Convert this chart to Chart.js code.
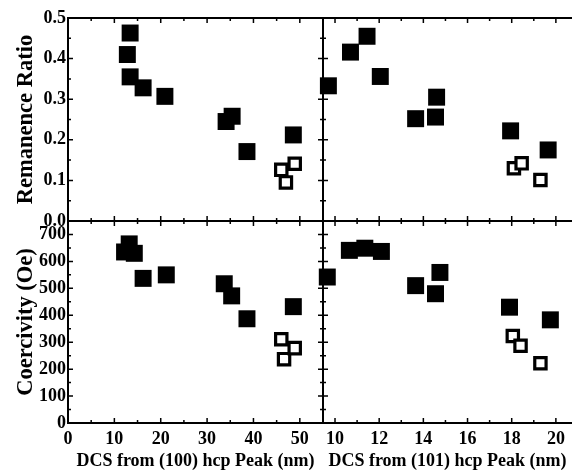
<!DOCTYPE html>
<html>
<head>
<meta charset="utf-8">
<script src="https://cdn.jsdelivr.net/npm/chart.js@4.4.1/dist/chart.umd.min.js"></script>
<style>
  html, body { margin: 0; padding: 0; background: #fff; }
  #dcs { display: block; }
</style>
</head>
<body>
<canvas id="dcs" width="572" height="472"></canvas>
<script>
// tick labels
const ticks100 = [0, 10, 20, 30, 40, 50];
const ticks101 = [10, 12, 14, 16, 18, 20];
const ticksRem = [0, 0.1, 0.2, 0.3, 0.4, 0.5];
const ticksHc = [0, 100, 200, 300, 400, 500, 600, 700];

// remanence ratio vs DCS from (100)
const rem100X = [13.4, 12.8, 13.4, 16.2, 20.9, 34.1, 35.4, 38.6, 48.6];
const rem100Y = [0.463, 0.41, 0.355, 0.328, 0.307, 0.245, 0.258, 0.171, 0.212];
const rem100OpenX = [46.0, 47.0, 48.9];
const rem100OpenY = [0.126, 0.095, 0.141];

// remanence ratio vs DCS from (101)
const rem101X = [9.7, 10.7, 11.45, 12.05, 14.6, 13.65, 14.55, 17.95, 19.65];
const rem101Y = [0.333, 0.416, 0.455, 0.356, 0.305, 0.252, 0.256, 0.222, 0.175];
const rem101OpenX = [18.1, 18.45, 19.3];
const rem101OpenY = [0.130, 0.142, 0.101];

// coercivity vs DCS from (100)
const hc100X = [13.2, 12.2, 14.3, 16.2, 21.2, 33.7, 35.3, 38.6, 48.6];
const hc100Y = [665, 635, 630, 537, 550, 517, 472, 387, 432];
const hc100OpenX = [46.0, 46.6, 48.9];
const hc100OpenY = [311, 237, 278];

// coercivity vs DCS from (101)
const hc101X = [9.65, 10.65, 11.35, 12.1, 13.65, 14.55, 14.75, 17.9, 19.75];
const hc101Y = [542, 641, 649, 637, 510, 480, 559, 430, 383];
const hc101OpenX = [18.05, 18.4, 19.3];
const hc101OpenY = [323, 287, 222];

const pts = (xs, ys) => xs.map((x, i) => ({ x, y: ys[i] }));

const FONT = 'Liberation Serif';
const tickFont = { family: FONT, size: 18, weight: 'bold' };

function solid(xs, ys, xId, yId) {
  return {
    data: pts(xs, ys), xAxisID: xId, yAxisID: yId,
    pointStyle: 'rect', pointRadius: 12, pointHoverRadius: 12,
    backgroundColor: '#000', borderWidth: 0, clip: false
  };
}
function hollow(xs, ys, xId, yId) {
  return {
    data: pts(xs, ys), xAxisID: xId, yAxisID: yId,
    pointStyle: 'rect', pointRadius: 8, pointHoverRadius: 8,
    backgroundColor: '#fff', borderColor: '#000', borderWidth: 3.2, clip: false
  };
}

// minor ticks halfway between labelled ones
const halves = t => t.slice(1).map((v, i) => (v + t[i]) / 2);
const tickSets = {
  x100: [ticks100, halves(ticks100)],
  x101: [ticks101, halves(ticks101)],
  yRem: [ticksRem, halves(ticksRem)],
  yHc: [ticksHc, halves(ticksHc)]
};

// box, panel dividers and tick marks
const frame = {
  id: 'frame',
  beforeDatasetsDraw(chart) {
    const { ctx, chartArea: a, scales: s } = chart;
    const mid = s.yRem.bottom;
    const div = s.x100.right;
    ctx.save();
    ctx.strokeStyle = '#000';
    ctx.lineWidth = 2;
    ctx.beginPath();
    ctx.moveTo(a.right, a.top);
    ctx.lineTo(a.left, a.top);
    ctx.lineTo(a.left, a.bottom);
    ctx.lineTo(a.right, a.bottom);
    ctx.moveTo(a.left, mid);
    ctx.lineTo(a.right, mid);
    ctx.moveTo(div, a.top);
    ctx.lineTo(div, a.bottom);
    ctx.stroke();

    ctx.lineWidth = 1.5;
    ctx.beginPath();
    const seg = (x0, y0, x1, y1) => { ctx.moveTo(x0, y0); ctx.lineTo(x1, y1); };
    for (const id of ['x100', 'x101']) {
      const sc = s[id];
      tickSets[id].forEach((vals, k) => {
        const len = k ? 3 : 5;
        for (const v of vals) {
          const px = sc.getPixelForValue(v);
          seg(px, a.top, px, a.top + len);
          seg(px, mid - len, px, mid + len);
          seg(px, a.bottom - len, px, a.bottom);
        }
      });
    }
    for (const id of ['yRem', 'yHc']) {
      const sc = s[id];
      tickSets[id].forEach((vals, k) => {
        const len = k ? 3 : 5;
        for (const v of vals) {
          const py = sc.getPixelForValue(v);
          seg(a.left, py, a.left + len, py);
          seg(div - len, py, div + len, py);
        }
      });
    }
    ctx.stroke();
    ctx.restore();
  }
};

function xScale(min, max, weight, ticks, title) {
  return {
    type: 'linear', position: 'bottom', stack: 'x', stackWeight: weight,
    min, max,
    afterBuildTicks: sc => { sc.ticks = ticks.map(value => ({ value })); },
    afterFit: sc => { sc.height = 49; sc.paddingLeft = 0; sc.paddingRight = 0; },
    grid: { display: false, drawTicks: false },
    border: { display: false },
    ticks: { font: tickFont, color: '#000', padding: 6, autoSkip: false, maxRotation: 0 },
    title: {
      display: true, text: title, color: '#000',
      font: { family: FONT, size: 18, weight: 'bold', lineHeight: 1 },
      padding: { top: 0, bottom: 2 }
    }
  };
}
function yScale(min, max, weight, order, ticks, digits, title) {
  return {
    type: 'linear', position: 'left', stack: 'y', stackWeight: weight, weight: order,
    min, max,
    afterBuildTicks: sc => { sc.ticks = ticks.map(value => ({ value })); },
    afterFit: sc => { sc.width = 68; sc.paddingTop = 0; sc.paddingBottom = 0; },
    grid: { display: false, drawTicks: false },
    border: { display: false },
    ticks: {
      font: tickFont, color: '#000', padding: 2, autoSkip: false,
      callback: v => v.toFixed(digits)
    },
    title: {
      display: true, text: title, color: '#000',
      font: { family: FONT, size: 22.5, weight: 'bold', lineHeight: 1 },
      padding: { top: 15, bottom: 0 }
    }
  };
}

new Chart(document.getElementById('dcs'), {
  type: 'scatter',
  data: {
    datasets: [
      solid(rem100X, rem100Y, 'x100', 'yRem'),
      hollow(rem100OpenX, rem100OpenY, 'x100', 'yRem'),
      solid(rem101X, rem101Y, 'x101', 'yRem'),
      hollow(rem101OpenX, rem101OpenY, 'x101', 'yRem'),
      solid(hc100X, hc100Y, 'x100', 'yHc'),
      hollow(hc100OpenX, hc100OpenY, 'x100', 'yHc'),
      solid(hc101X, hc101Y, 'x101', 'yHc'),
      hollow(hc101OpenX, hc101OpenY, 'x101', 'yHc')
    ]
  },
  options: {
    responsive: false,
    animation: false,
    devicePixelRatio: 1,
    layout: { autoPadding: false, padding: { top: 18, right: 0, bottom: 0, left: 0 } },
    plugins: { legend: { display: false }, tooltip: { enabled: false } },
    scales: {
      x100: xScale(0, 55, 255, ticks100, 'DCS from (100) hcp Peak (nm)'),
      x101: xScale(9.456, 20.73, 249, ticks101, 'DCS from (101) hcp Peak (nm)'),
      yRem: yScale(0, 0.5, 203, 2, ticksRem, 1, 'Remanence Ratio'),
      yHc: yScale(0, 750, 202, 1, ticksHc, 0, 'Coercivity (Oe)')
    }
  },
  plugins: [frame]
});
</script>
</body>
</html>
